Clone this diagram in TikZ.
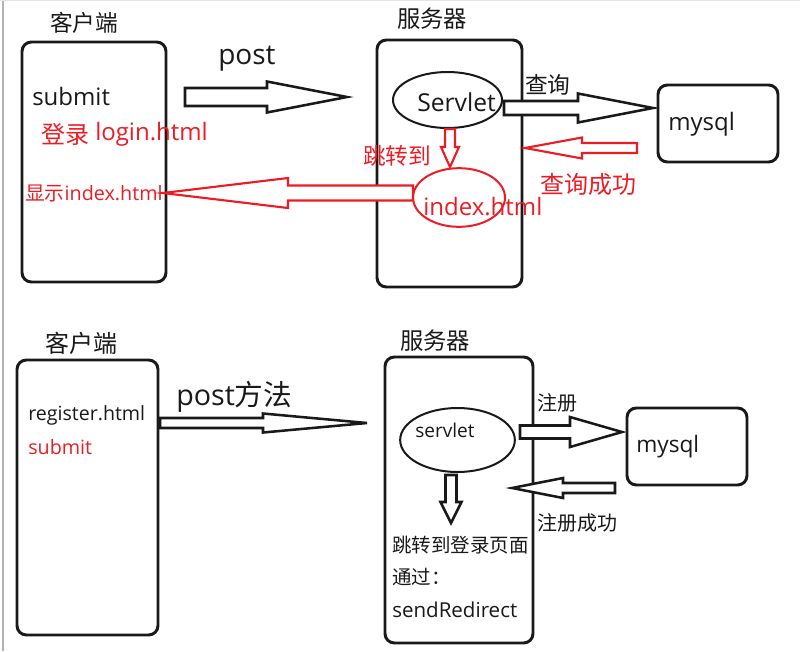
\documentclass[tikz,border=0pt]{standalone}
\usepackage{fontspec}
\setmainfont{Open Sans}
\newfontfamily\cjk{Noto Sans CJK SC}
\usetikzlibrary{calc,fit,shapes.geometric}
\definecolor{myred}{RGB}{237,28,36}
\definecolor{ink}{RGB}{25,25,25}
\newcommand\fs[1]{\fontsize{#1}{#1}\selectfont}
% [style]{tail}{tip}{shaft half px}{head half px}{head length px}
\newcommand\blockarrow[6][]{%
  \pgfmathsetlengthmacro\baS{#4*0.75}%
  \pgfmathsetlengthmacro\baH{#5*0.75}%
  \pgfmathsetlengthmacro\baL{#6*0.75}%
  \coordinate (bah) at ($(#3)!\baL!(#2)$);
  \draw[#1] ($(#2)!\baS!90:(#3)$) -- ($(bah)!\baS!90:(#3)$) -- ($(bah)!\baH!90:(#3)$)
    -- (#3) -- ($(bah)!\baH!-90:(#3)$) -- ($(bah)!\baS!-90:(#3)$)
    -- ($(#2)!\baS!-90:(#3)$) -- cycle;
}
\begin{document}
\begin{tikzpicture}[x=0.75pt,y=-0.75pt,
  box/.style={draw=ink, line width=2.2pt, rounded corners=7pt, inner sep=0pt},
  ell/.style={draw=ink, ellipse, line width=1.5pt, inner sep=0pt},
  lbl/.style={anchor=west, inner sep=0pt, text=ink},
  rlbl/.style={anchor=west, inner sep=0pt, text=myred},
  barrow/.style={draw=ink, line width=1.9pt, fill=white},
  rarrow/.style={draw=myred, line width=1.6pt, fill=white}]
\useasboundingbox (0,0) rectangle (800,651);
\draw[gray!60, line width=1.2pt] (3,0) -- (3,651);
\draw[gray!20, line width=1pt] (0,0.7) -- (800,0.7);

% ---------- top ----------
\node[box, fit={(22,42) (166,282)}] (c1) {};
\node[box, fit={(377,40) (522,287)}] (s1) {};
\node[box, fit={(658,85) (778,162)}] (m1) {};
\node[ell, minimum width=81.75pt, minimum height=42pt] (sv1) at (447.5,100) {};
\node[ell, draw=myred, minimum width=69pt, minimum height=44pt] (ix1) at (459,197.5) {};

\node[lbl, font=\cjk\fs{17pt}] (tc1) at (50,23) {客户端};
\node[lbl, font=\fs{21pt}] (tpost) at (218,59) {post};
\node[lbl, font=\fs{18pt}] (tsub1) at (32,96) {submit};
\node[rlbl, font=\cjk\fs{18pt}] (tdl) at (41,134) {登录};
\node[rlbl, font=\fs{18pt}] (tlogin) at (95,134) {login.html};
\node[rlbl, font=\fs{14.8pt}] (tshow) at (25,193) {{\cjk 显示}index.html};
\node[lbl, font=\cjk\fs{17.5pt}] (ts1) at (397,19) {服务器};
\node[lbl, font=\fs{18.5pt}] (tsv1) at (417,102) {Servlet};
\node[lbl, font=\cjk\fs{17pt}] (tq) at (525,85) {查询};
\node[lbl, font=\fs{18pt}] (tm1) at (668,124) {mysql};
\node[rlbl, font=\cjk\fs{17pt}] (tjump) at (363,156) {跳转到};
\node[rlbl, font=\cjk\fs{18pt}] (tqok) at (540,184) {查询成功};
\node[rlbl, font=\fs{18pt}] (tix) at (423,207) {index.html};

\coordinate (a1t) at (185,97);  \coordinate (a1h) at (347,97);
\blockarrow[barrow]{a1t}{a1h}{9}{15.5}{80}
\coordinate (a2t) at (504,108); \coordinate (a2h) at (653,108);
\blockarrow[barrow]{a2t}{a2h}{7}{14.5}{75}
\coordinate (a3t) at (637,148); \coordinate (a3h) at (525,148);
\blockarrow[rarrow]{a3t}{a3h}{5}{10.5}{57}
\coordinate (a4t) at (450,129); \coordinate (a4h) at (450,167);
\blockarrow[rarrow]{a4t}{a4h}{5}{9}{20}
\coordinate (a5t) at (413,193); \coordinate (a5h) at (163,193);
\blockarrow[rarrow]{a5t}{a5h}{7.5}{15}{125}

% ---------- bottom ----------
\node[box, fit={(17,360) (158,635)}] (c2) {};
\node[box, fit={(385,357) (533,643)}] (s2) {};
\node[box, fit={(627,408) (747,485)}] (m2) {};
\node[ell, minimum width=86pt, minimum height=48pt] (sv2) at (457.5,440) {};

\node[lbl, font=\cjk\fs{18pt}] (tc2) at (45,343) {客户端};
\node[lbl, font=\fs{21.5pt}] (tpost2) at (176,397) {post{\cjk 方法}};
\node[lbl, font=\fs{14.7pt}] (treg) at (28,415) {register.html};
\node[rlbl, font=\fs{14.8pt}] (tsub2) at (28,447) {submit};
\node[lbl, font=\cjk\fs{17.5pt}] (ts2) at (400,341) {服务器};
\node[lbl, font=\fs{14.3pt}] (tsv2) at (415,430) {servlet};
\node[lbl, font=\cjk\fs{15pt}] (treg1) at (537,403) {注册};
\node[lbl, font=\fs{17pt}] (tm2) at (636,447) {mysql};
\node[lbl, font=\cjk\fs{15pt}] (tregok) at (537,523) {注册成功};
\node[lbl, font=\cjk\fs{14.6pt}] (tjump2) at (392,545) {跳转到登录页面};
\node[lbl, font=\cjk\fs{14.6pt}] (tvia) at (392,577) {通过：};
\node[lbl, font=\fs{15.4pt}] (tsend) at (392,610) {sendRedirect};

\coordinate (b1t) at (160,423); \coordinate (b1h) at (367,423);
\blockarrow[barrow]{b1t}{b1h}{5}{9.5}{104}
\coordinate (b2t) at (520,432); \coordinate (b2h) at (622,432);
\blockarrow[barrow]{b2t}{b2h}{6.5}{15}{52}
\coordinate (b3t) at (615,488); \coordinate (b3h) at (512,488);
\blockarrow[barrow]{b3t}{b3h}{5}{10}{51}
\coordinate (b4t) at (451,475); \coordinate (b4h) at (451,523);
\blockarrow[barrow]{b4t}{b4h}{5.5}{10.5}{21}
\end{tikzpicture}
\end{document}
